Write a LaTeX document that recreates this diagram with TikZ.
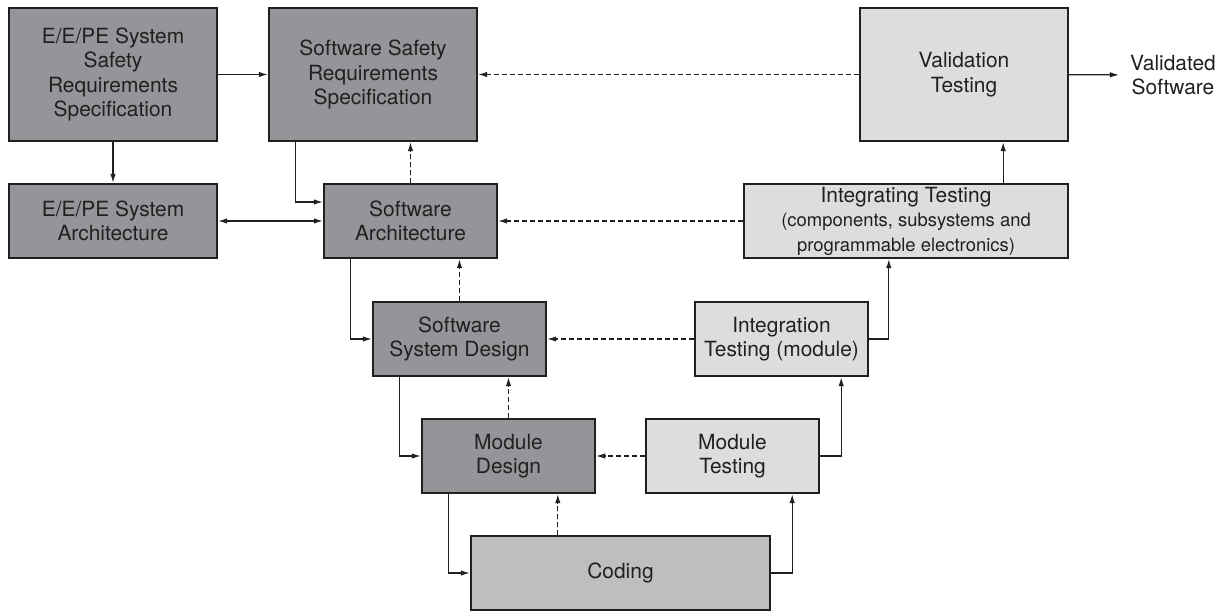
\documentclass[tikz,border=0pt]{standalone}
\usepackage{fontspec}
\setmainfont{TeX Gyre Heros}
\usetikzlibrary{arrows.meta}
\definecolor{darkbox}{RGB}{148,149,153}
\definecolor{midbox}{RGB}{188,190,192}
\definecolor{lightbox}{RGB}{220,221,222}
\definecolor{ink}{RGB}{35,31,32}
\newcommand{\boxfont}{\fontsize{21}{24.5}\selectfont}
\newcommand{\subfont}{\fontsize{18.5}{22}\selectfont}
\tikzset{>={Latex[length=9bp,width=5.5bp]},
  box/.style={draw=ink,line width=2.4bp,text=ink,align=center,font=\boxfont,inner sep=2bp},
  dbox/.style={box,fill=darkbox},
  mbox/.style={box,fill=midbox},
  lbox/.style={box,fill=lightbox},
  conn/.style={draw=ink,line width=1.2bp,->},
  back/.style={conn,dash pattern=on 5bp off 3bp}}

\begin{document}
\begin{tikzpicture}[x=1bp,y=-1bp]
\useasboundingbox (0,0) rectangle (1229,614);
\node[dbox,minimum width=208bp,minimum height=133bp] (eespec) at (113,74.5) {E/E/PE System\\Safety\\Requirements\\Specification};
\node[dbox,minimum width=208bp,minimum height=133bp] (swspec) at (373,74.5) {Software Safety\\Requirements\\Specification};
\node[lbox,minimum width=208bp,minimum height=133bp] (valid) at (964,74.5) {Validation\\Testing};
\node[text=ink,align=center,font=\boxfont,inner sep=11bp] (vsw) at (1173,75) {Validated\\Software};
\node[dbox,minimum width=208bp,minimum height=74bp] (eearch) at (113,221) {E/E/PE System\\Architecture};
\node[dbox,minimum width=173bp,minimum height=74bp] (swarch) at (410.5,221) {Software\\Architecture};
\node[lbox,minimum width=324bp,minimum height=74bp] (integ) at (906,221) {Integrating Testing\\\subfont (components, subsystems and\\\subfont programmable electronics)};
\node[dbox,minimum width=173bp,minimum height=74bp] (sysdes) at (459.5,339) {Software\\System Design};
\node[lbox,minimum width=173bp,minimum height=74bp] (inttest) at (781.5,339) {Integration\\Testing (module)};
\node[dbox,minimum width=173bp,minimum height=74bp] (moddes) at (508.5,456) {Module\\Design};
\node[lbox,minimum width=173bp,minimum height=74bp] (modtest) at (732.5,456) {Module\\Testing};
\node[mbox,minimum width=299bp,minimum height=74bp] (coding) at (620.5,573) {Coding};
% down the left side
\draw[conn] (eespec) -- (swspec);
\draw[conn] (eespec) -- (eearch);
\draw[conn,<->] (eearch) -- (swarch);
\draw[conn] ([xshift=28bp]swspec.south west) |- ([yshift=19bp]swarch.west);
\draw[conn] ([xshift=28bp]swarch.south west) |- (sysdes.west);
\draw[conn] ([xshift=28bp]sysdes.south west) |- (moddes.west);
\draw[conn] ([xshift=28bp]moddes.south west) |- (coding.west);
% up the right side
\draw[conn] (coding.east) -| ([xshift=-28bp]modtest.south east);
\draw[conn] (modtest.east) -| ([xshift=-28bp]inttest.south east);
\draw[conn] (inttest.east) -| ([xshift=146bp]integ.south west);
\draw[conn] ([xshift=-66bp]integ.north east) -- ([xshift=-66bp]integ.north east |- valid.south);
\draw[conn] (valid) -- (vsw);
% verification
\draw[back] (swarch.north) -- (swarch.north |- swspec.south);
\draw[back] (sysdes.north) -- (sysdes.north |- swarch.south);
\draw[back] (moddes.north) -- (moddes.north |- sysdes.south);
\draw[back] ([xshift=88bp]coding.north west) -- ([xshift=88bp]coding.north west |- moddes.south);
\draw[back] (valid) -- (swspec);
\draw[back] (integ) -- (swarch);
\draw[back] (inttest) -- (sysdes);
\draw[back] (modtest) -- (moddes);
\end{tikzpicture}
\end{document}
